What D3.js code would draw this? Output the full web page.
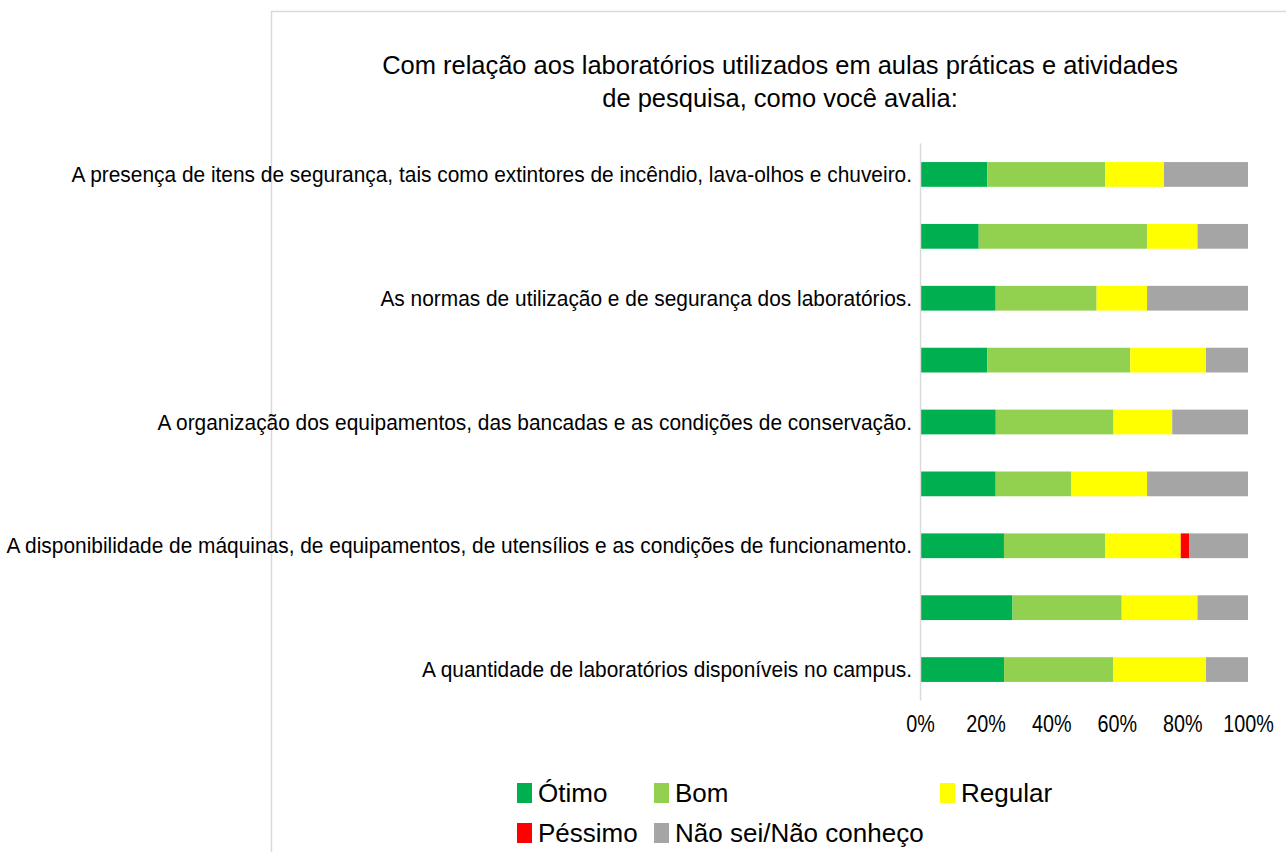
<!DOCTYPE html>
<html>
<head>
<meta charset="utf-8">
<title>Laboratórios</title>
<script src="https://d3js.org/d3.v7.min.js"></script>
<style>
  body { margin: 0; background: #fff; }
  text { font-family: "Liberation Sans", Arial, sans-serif; fill: #000; }
</style>
</head>
<body>
<script>
// categorias, de cima para baixo (as linhas sem rótulo não mostram texto no original)
const categories = [
  "A presença de itens de segurança, tais como extintores de incêndio, lava-olhos e chuveiro.",
  "",
  "As normas de utilização e de segurança dos laboratórios.",
  "",
  "A organização dos equipamentos, das bancadas e as condições de conservação.",
  "",
  "A disponibilidade de máquinas, de equipamentos, de utensílios e as condições de funcionamento.",
  "",
  "A quantidade de laboratórios disponíveis no campus."
];

const seriesNames = ["Ótimo", "Bom", "Regular", "Péssimo", "Não sei/Não conheço"];
const seriesColors = ["#00B050", "#92D050", "#FFFF00", "#FF0000", "#A5A5A5"];

// valores em %
const otimo   = [20.5, 17.9, 23.1, 20.5, 23.1, 23.1, 25.6, 28.2, 25.6];
const bom     = [35.9, 51.3, 30.8, 43.6, 35.9, 23.1, 30.8, 33.3, 33.3];
const regular = [17.9, 15.4, 15.4, 23.1, 17.9, 23.1, 23.1, 23.1, 28.2];
const pessimo = [0, 0, 0, 0, 0, 0, 2.6, 0, 0];
const naoSei  = [25.6, 15.4, 30.8, 12.8, 23.1, 30.8, 17.9, 15.4, 12.8];

const tickValues = [0, 0.2, 0.4, 0.6, 0.8, 1];

const titleLines = [
  "Com relação aos laboratórios utilizados em aulas práticas e atividades",
  "de pesquisa, como você avalia:"
];

const W = 1286, H = 852;

const svg = d3.select("body").append("svg")
  .attr("width", W)
  .attr("height", H);

// moldura do gráfico
svg.append("path")
  .attr("d", "M271.5," + H + "V11.5H" + W)
  .attr("fill", "none")
  .attr("stroke", "#d9d9d9")
  .attr("stroke-width", 1.5);

// título
svg.append("g").selectAll("text")
  .data(titleLines)
  .enter()
  .append("text")
  .attr("transform", function(d, i){ return "translate(780," + (74 + i * 33) + ") scale(0.98,1)"; })
  .attr("text-anchor", "middle")
  .style("font-size", "26px")
  .text(function(d){ return d; });

// dados para o empilhamento
const table = categories.map(function(c, i){
  return {
    idx: i,
    "Ótimo": otimo[i],
    "Bom": bom[i],
    "Regular": regular[i],
    "Péssimo": pessimo[i],
    "Não sei/Não conheço": naoSei[i]
  };
});

const stack = d3.stack()
  .keys(seriesNames)
  .offset(d3.stackOffsetExpand);
const stacked = stack(table);

const x = d3.scaleLinear().domain([0, 1]).range([920, 1248]);
const y = d3.scaleBand()
  .domain(d3.range(categories.length))
  .range([143.5, 700.5])
  .paddingInner(0.6)
  .paddingOuter(0.3);

const color = d3.scaleOrdinal().domain(seriesNames).range(seriesColors);

// barras
const layers = svg.append("g").selectAll("g")
  .data(stacked)
  .enter()
  .append("g")
  .attr("fill", function(d){ return color(d.key); });

layers.selectAll("rect")
  .data(function(d){ return d; })
  .enter()
  .append("rect")
  .attr("x", function(d){ return x(d[0]); })
  .attr("width", function(d){ return x(d[1]) - x(d[0]); })
  .attr("y", function(d){ return y(d.data.idx); })
  .attr("height", y.bandwidth());

// eixo vertical (linha)
svg.append("line")
  .attr("x1", 920.5).attr("x2", 920.5)
  .attr("y1", 143.5).attr("y2", 700.5)
  .attr("stroke", "#d9d9d9")
  .attr("stroke-width", 1.5);

// rótulos das categorias
svg.append("g").selectAll("text")
  .data(categories)
  .enter()
  .append("text")
  .attr("transform", function(d, i){
    return "translate(912," + (y(i) + y.bandwidth() / 2 + 7.5) + ") scale(0.95,1)";
  })
  .attr("text-anchor", "end")
  .style("font-size", "22px")
  .text(function(d){ return d; });

// eixo x
const xAxis = d3.axisBottom(x)
  .tickValues(tickValues)
  .tickFormat(d3.format(".0%"))
  .tickSize(0)
  .tickPadding(15);

const gx = svg.append("g")
  .attr("transform", "translate(0,700.5)")
  .call(xAxis);
gx.select(".domain").remove();
gx.selectAll("text")
  .attr("transform", "scale(0.86,1)")
  .style("font-size", "23px")
  .style("font-family", "'Liberation Sans', Arial, sans-serif")
  .attr("fill", "#000");

// legenda
const legendPos = [[517, 793], [654, 793], [940, 793], [517, 833], [654, 833]];
const legend = svg.append("g").selectAll("g")
  .data(seriesNames)
  .enter()
  .append("g")
  .attr("transform", function(d, i){ return "translate(" + legendPos[i][0] + "," + legendPos[i][1] + ")"; });

legend.append("rect")
  .attr("x", 0).attr("y", -10)
  .attr("width", 15).attr("height", 20)
  .attr("fill", function(d){ return color(d); });

legend.append("text")
  .attr("transform", "translate(21,9)")
  .style("font-size", "26px")
  .text(function(d){ return d; });
</script>
</body>
</html>
